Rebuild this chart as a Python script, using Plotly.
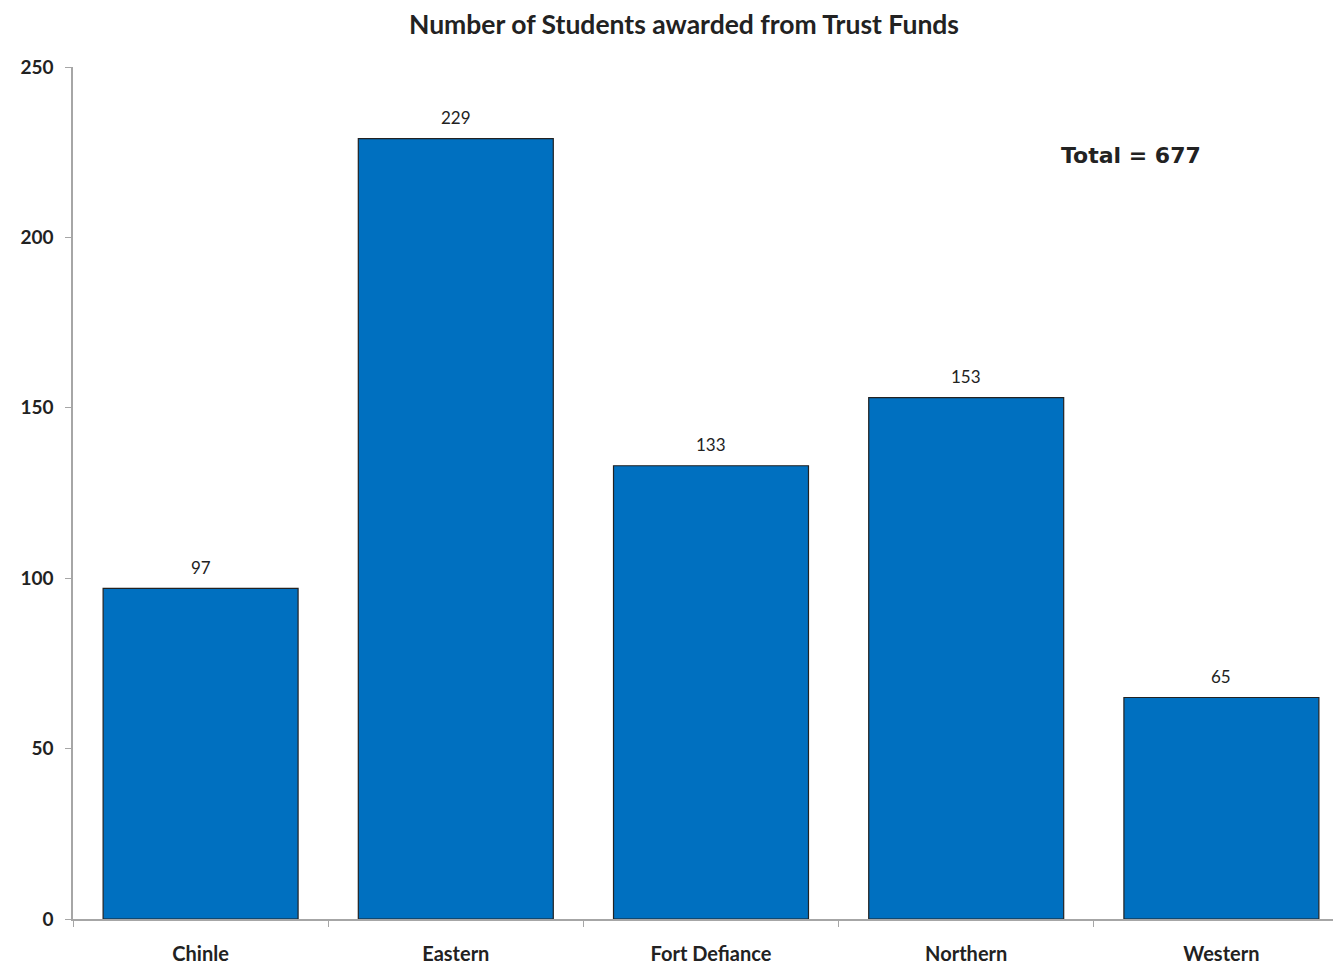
import plotly.graph_objects as go

categories = ["Chinle", "Eastern", "Fort Defiance", "Northern", "Western"]
students = [97, 229, 133, 153, 65]
total_label = "Total = " + str(sum(students))
title = "Number of Students awarded from Trust Funds"
y_ticks = [0, 50, 100, 150, 200, 250]

fig = go.Figure(go.Bar(
    x=categories, y=students,
    marker=dict(color="#0070C0", line=dict(color="#222222", width=1.2)),
    cliponaxis=False,
))

annotations = [
    dict(text="<b>" + title + "</b>", xref="paper", yref="paper",
         x=(684 - 73) / 1276, y=1, yshift=43, xanchor="center", yanchor="middle",
         showarrow=False, font=dict(size=26.5, family="Lato, sans-serif", color="#222222")),
    dict(text="<b>" + total_label + "</b>", xref="paper", yref="y",
         x=(1131 - 73) / 1276, y=224, xanchor="center", yanchor="middle",
         showarrow=False, font=dict(size=22, family="DejaVu Sans, Verdana, sans-serif", color="#222222")),
]
for c, v in zip(categories, students):
    annotations.append(dict(text=str(v), x=c, y=v, xref="x", yref="y", yshift=21,
                            xanchor="center", yanchor="middle", showarrow=False,
                            font=dict(size=17, family="Lato, sans-serif", color="#222222")))

fig.update_layout(
    width=1341, height=958,
    margin=dict(l=65, r=0, t=59, b=47, autoexpand=False),
    plot_bgcolor="white", paper_bgcolor="white",
    bargap=0.236, showlegend=False,
    font=dict(family="Lato, Open Sans, sans-serif", color="#222222"),
    annotations=annotations,
)
fig.update_yaxes(range=[0, 250], tickvals=y_ticks, showgrid=False, zeroline=False,
                 showline=True, linecolor="#A6A6A6", linewidth=1.5,
                 ticks="outside", ticklen=6, tickcolor="#A6A6A6", automargin=False,
                 tickfont=dict(size=19, family="Lato, sans-serif", color="#222222", weight="bold"),
                 ticklabelstandoff=8)
fig.update_xaxes(showgrid=False, showline=True, linecolor="#A6A6A6", linewidth=1.5,
                 ticks="outside", tickson="boundaries", ticklen=6, tickcolor="#A6A6A6", automargin=False,
                 tickfont=dict(size=20, family="Lato, sans-serif", color="#222222", weight="bold"),
                 ticklabelstandoff=16)

fig.write_html("out.html")
